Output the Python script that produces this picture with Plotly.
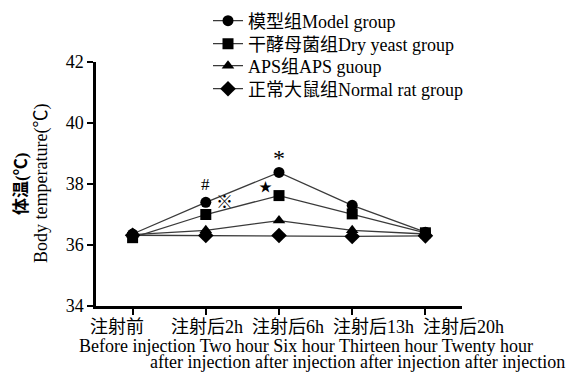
import plotly.graph_objects as go

# ---- data ----
categories = ["注射前", "注射后2h", "注射后6h", "注射后13h", "注射后20h"]
english_line1 = ["Before injection", "Two hour", "Six hour", "Thirteen hour", "Twenty hour"]
english_line2 = ["after injection", "after injection", "after injection", "after injection"]

series_names = ["模型组Model group", "干酵母菌组Dry yeast group", "APS组APS guoup", "正常大鼠组Normal rat group"]
model_vals = [36.36, 37.40, 38.38, 37.30, 36.42]
yeast_vals = [36.24, 37.00, 37.62, 37.02, 36.40]
aps_vals = [36.34, 36.48, 36.80, 36.48, 36.36]
normal_vals = [36.32, 36.31, 36.31, 36.28, 36.30]

y_ticks = [34, 36, 38, 40, 42]

# significance marks: (text, x position in category units, y value, font size)
sig_text = ["#", "※", "★", "*"]
sig_x = [1.0, 1.26, 1.82, 2.0]
sig_y = [37.98, 37.40, 37.92, 38.86]
sig_size = [17, 17, 13, 24]

FONT = "Liberation Serif, Times New Roman, Noto Sans CJK SC, serif"
x_idx = list(range(len(categories)))

symbols = ["circle", "square", "triangle-up", "diamond"]
sizes = [11, 11, 11, 12]
all_vals = [model_vals, yeast_vals, aps_vals, normal_vals]
legend_ids = ["legend", "legend2", "legend3", "legend4"]
legend_row_px = [21, 44, 66, 89]

PLOT_TOP, PLOT_BOTTOM, PLOT_LEFT, PLOT_W = 62, 306, 96, 366

fig = go.Figure()
for name, vals, sym, sz, lg in zip(series_names, all_vals, symbols, sizes, legend_ids):
    fig.add_trace(go.Scatter(
        x=x_idx, y=vals, name=name, mode="lines+markers", legend=lg,
        line=dict(color="#3a3a3a", width=1.3),
        marker=dict(symbol=sym, size=sz, color="black"),
    ))

annotations = []
for t, xv, yv, fs in zip(sig_text, sig_x, sig_y, sig_size):
    annotations.append(dict(x=xv, y=yv, xref="x", yref="y", text=t, showarrow=False,
                            font=dict(family=FONT, size=fs, color="black")))

H = PLOT_BOTTOM - PLOT_TOP
# x category label row and English rows
annotations.append(dict(x=(88 - PLOT_LEFT) / PLOT_W, y=(PLOT_BOTTOM - 327) / H, xref="paper", yref="paper",
                        xanchor="left", yanchor="middle", showarrow=False,
                        text=categories[0] + "\u2003\u2002" + "\u2002".join(categories[1:]),
                        font=dict(family=FONT, size=18, color="black")))
annotations.append(dict(x=(77 - PLOT_LEFT) / PLOT_W, y=(PLOT_BOTTOM - 346) / H, xref="paper", yref="paper",
                        xanchor="left", yanchor="middle", showarrow=False,
                        text=" ".join(english_line1),
                        font=dict(family=FONT, size=18, color="black")))
annotations.append(dict(x=(567 - PLOT_LEFT) / PLOT_W, y=(PLOT_BOTTOM - 362) / H, xref="paper", yref="paper",
                        xanchor="right", yanchor="middle", showarrow=False,
                        text=" ".join(english_line2),
                        font=dict(family=FONT, size=18, color="black")))
# y title rows
annotations.append(dict(x=(21 - PLOT_LEFT) / PLOT_W, y=0.5, xref="paper", yref="paper",
                        xanchor="center", yanchor="middle", showarrow=False, textangle=-90,
                        text="<b>体温(℃)</b>", font=dict(family=FONT, size=17, color="black")))
annotations.append(dict(x=(41 - PLOT_LEFT) / PLOT_W, y=0.5, xref="paper", yref="paper",
                        xanchor="center", yanchor="middle", showarrow=False, textangle=-90,
                        text="Body temperature(℃)", font=dict(family=FONT, size=18, color="black")))

layout_kw = dict(
    width=568, height=372,
    margin=dict(l=PLOT_LEFT, r=568 - PLOT_LEFT - PLOT_W, t=PLOT_TOP, b=372 - PLOT_BOTTOM, autoexpand=False),
    paper_bgcolor="white", plot_bgcolor="white",
    font=dict(family=FONT, size=18, color="black"),
    showlegend=True,
    annotations=annotations,
)
for lg, ypx in zip(legend_ids, legend_row_px):
    layout_kw[lg] = dict(x=(208 - PLOT_LEFT) / PLOT_W, y=(PLOT_BOTTOM - ypx) / H,
                         xanchor="left", yanchor="middle",
                         bgcolor="rgba(0,0,0,0)", font=dict(family=FONT, size=18, color="black"),
                         itemwidth=30)
fig.update_layout(**layout_kw)
fig.update_xaxes(range=[-0.5, 4.5], tickvals=x_idx, showticklabels=False,
                 showline=True, linecolor="black", linewidth=2.5,
                 ticks="outside", ticklen=6, tickwidth=2, tickcolor="black",
                 showgrid=False, zeroline=False, fixedrange=True)
fig.update_yaxes(range=[34, 42], tickvals=y_ticks, ticktext=[str(v) for v in y_ticks],
                 showline=True, linecolor="black", linewidth=2.5,
                 ticks="outside", ticklen=6, tickwidth=2, tickcolor="black",
                 tickfont=dict(family=FONT, size=18, color="black"),
                 showgrid=False, zeroline=False, fixedrange=True)

fig.write_html("out.html")
